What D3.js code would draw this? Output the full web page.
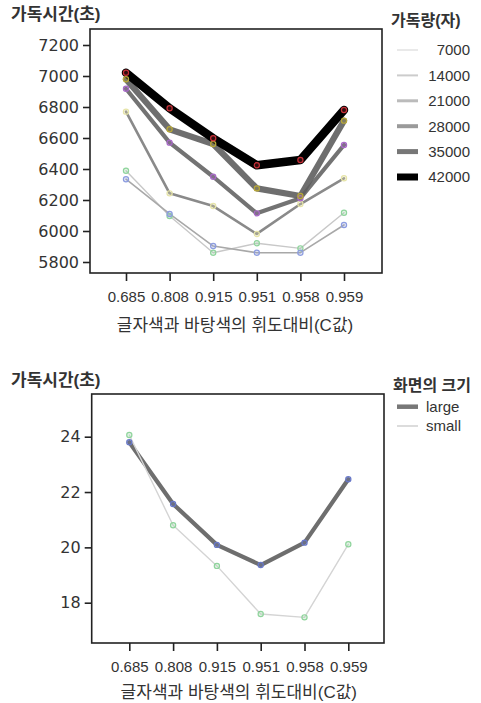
<!DOCTYPE html>
<html><head><meta charset="utf-8">
<script src="https://cdn.jsdelivr.net/npm/d3@7"></script>
<style>
html,body{margin:0;padding:0;background:#fff;}
svg{display:block;}
</style></head>
<body>
<script>
// ---------- data ----------
const categories = ["0.685","0.808","0.915","0.951","0.958","0.959"];
const amounts = ["7000","14000","21000","28000","35000","42000"];
const time7000  = [6389,6097,5860,5921,5888,6118];
const time14000 = [6334,6110,5903,5860,5860,6039];
const time21000 = [6770,6243,6161,5981,6174,6340];
const time28000 = [6918,6570,6350,6114,6211,6555];
const time35000 = [6979,6656,6561,6275,6226,6712];
const time42000 = [7021,6792,6598,6424,6458,6781];
const topTicks = [5800,6000,6200,6400,6600,6800,7000,7200];

const sizes = ["large","small"];
const timeLarge = [23.80,21.57,20.09,19.36,20.17,22.46];
const timeSmall = [24.06,20.80,19.33,17.59,17.47,20.11];
const bottomTicks = [18,20,22,24];

const yTitle = "가독시간(초)";
const xTitle = "글자색과 바탕색의 휘도대비(C값)";
const legendTitleTop = "가독량(자)";
const legendTitleBottom = "화면의 크기";

// ---------- styles ----------
const topSeries = [time7000,time14000,time21000,time28000,time35000,time42000];
const lineStyleTop = [
  {c:"#c8c8c8", w:1.4, o:1},
  {c:"#a8a8a8", w:1.6, o:1},
  {c:"#8a8a8a", w:2.6, o:1},
  {c:"#737373", w:4.2, o:1},
  {c:"#5e5e5e", w:6.2, o:0.9},
  {c:"#000000", w:8.5, o:1}
];
const legendStyleTop = [
  {c:"#e2e2e2", w:1.5},{c:"#cccccc", w:2},{c:"#bbbbbb", w:3},
  {c:"#9a9a9a", w:4},{c:"#777777", w:5},{c:"#000000", w:7}
];
const markerTop = ["#8fd49c","#8c9ce0","#e6e4a8","#a868c8","#b8a838","#c83038"];
const bottomSeries = [timeLarge,timeSmall];
const lineStyleBottom = [{c:"#6e6e6e", w:4.2},{c:"#d4d4d4", w:1.4}];
const legendStyleBottom = [{c:"#777777", w:4.5},{c:"#d0d0d0", w:1.5}];
const markerBottom = ["#6878c8","#8fd49c"];

const FK = "'Liberation Sans','Noto Sans CJK KR',sans-serif";
const FD = "'DejaVu Sans',sans-serif";

const svg = d3.select("body").append("svg").attr("width",481).attr("height",703);
svg.append("rect").attr("width",481).attr("height",703).attr("fill","#fff");

function panel(o){
  const g = svg.append("g");
  const x = d3.scalePoint().domain(categories).range(o.xr);
  const y = d3.scaleLinear().domain(o.yd).range(o.yr);
  // frame
  g.append("rect").attr("x",o.f[0]).attr("y",o.f[1]).attr("width",o.f[2]-o.f[0]).attr("height",o.f[3]-o.f[1])
    .attr("fill","none").attr("stroke","#222").attr("stroke-width",1.6);
  // y axis
  const ya = g.append("g").attr("transform",`translate(${o.f[0]},0)`)
    .call(d3.axisLeft(y).tickValues(o.ticks).tickSize(7).tickPadding(4).tickFormat(d3.format("d")));
  ya.select(".domain").remove();
  ya.selectAll("line").attr("stroke","#222").attr("stroke-width",1.6);
  ya.selectAll("text").attr("font-family",FD).attr("font-size",16).attr("fill","#333");
  // x axis
  const xa = g.append("g").attr("transform",`translate(0,${o.f[3]})`)
    .call(d3.axisBottom(x).tickSize(8).tickPadding(10));
  xa.select(".domain").remove();
  xa.selectAll("line").attr("stroke","#222").attr("stroke-width",1.6);
  xa.selectAll("text").attr("font-family",FK).attr("font-size",15).attr("fill","#333");
  // titles
  g.append("text").attr("x",11).attr("y",o.yt).text(yTitle)
    .attr("font-family",FK).attr("font-size",17).attr("font-weight","bold").attr("fill","#333");
  g.append("text").attr("x",(o.xr[0]+o.xr[1])/2).attr("y",o.xt).attr("text-anchor","middle").text(xTitle)
    .attr("font-family",FK).attr("font-size",17).attr("fill","#333");
  // lines
  const line = d3.line().x((d,i)=>x(categories[i])).y(d=>y(d));
  o.series.forEach((s,k)=>{
    g.append("path").datum(s).attr("d",line).attr("fill","none")
      .attr("stroke",o.ls[k].c).attr("stroke-width",o.ls[k].w).attr("stroke-opacity",o.ls[k].o||1)
      .attr("stroke-linejoin","round").attr("stroke-linecap","round");
  });
  o.series.forEach((s,k)=>{
    g.selectAll(null).data(s).enter().append("circle")
      .attr("cx",(d,i)=>x(categories[i])).attr("cy",d=>y(d)).attr("r",2.6)
      .attr("fill",o.mk[k]).attr("fill-opacity",0.25).attr("stroke",o.mk[k]).attr("stroke-width",1.2);
  });
  // legend
  const lg = g.append("g");
  lg.append("text").attr("x",o.lx).attr("y",o.lty).text(o.lt)
    .attr("font-family",FK).attr("font-size",16).attr("font-weight","bold").attr("fill","#333");
  o.lnames.forEach((n,k)=>{
    const yy = o.ly0 + k*o.ldy;
    lg.append("line").attr("x1",397).attr("x2",418).attr("y1",yy).attr("y2",yy)
      .attr("stroke",o.lgs[k].c).attr("stroke-width",o.lgs[k].w);
    const t = lg.append("text").attr("y",yy).attr("dy","0.36em").text(n)
      .attr("font-family",FK).attr("font-size",15).attr("fill","#333");
    if(o.lalign==="end") t.attr("x",470).attr("text-anchor","end"); else t.attr("x",426);
  });
}

panel({xr:[126,344], yd:[5800,7200], yr:[262,45], f:[90,29,382,273], ticks:topTicks,
  yt:20, xt:331, series:topSeries, ls:lineStyleTop, mk:markerTop,
  lx:391, lty:26, lt:legendTitleTop, lnames:amounts, ly0:50, ldy:25.4, lgs:legendStyleTop, lalign:"end"});

panel({xr:[129.3,348.3], yd:[18,24], yr:[602.7,436.7], f:[91.7,394,384,643], ticks:bottomTicks,
  yt:386, xt:698, series:bottomSeries, ls:lineStyleBottom, mk:markerBottom,
  lx:393, lty:391, lt:legendTitleBottom, lnames:sizes, ly0:406.7, ldy:19.3, lgs:legendStyleBottom, lalign:"start"});
</script>
</body></html>
